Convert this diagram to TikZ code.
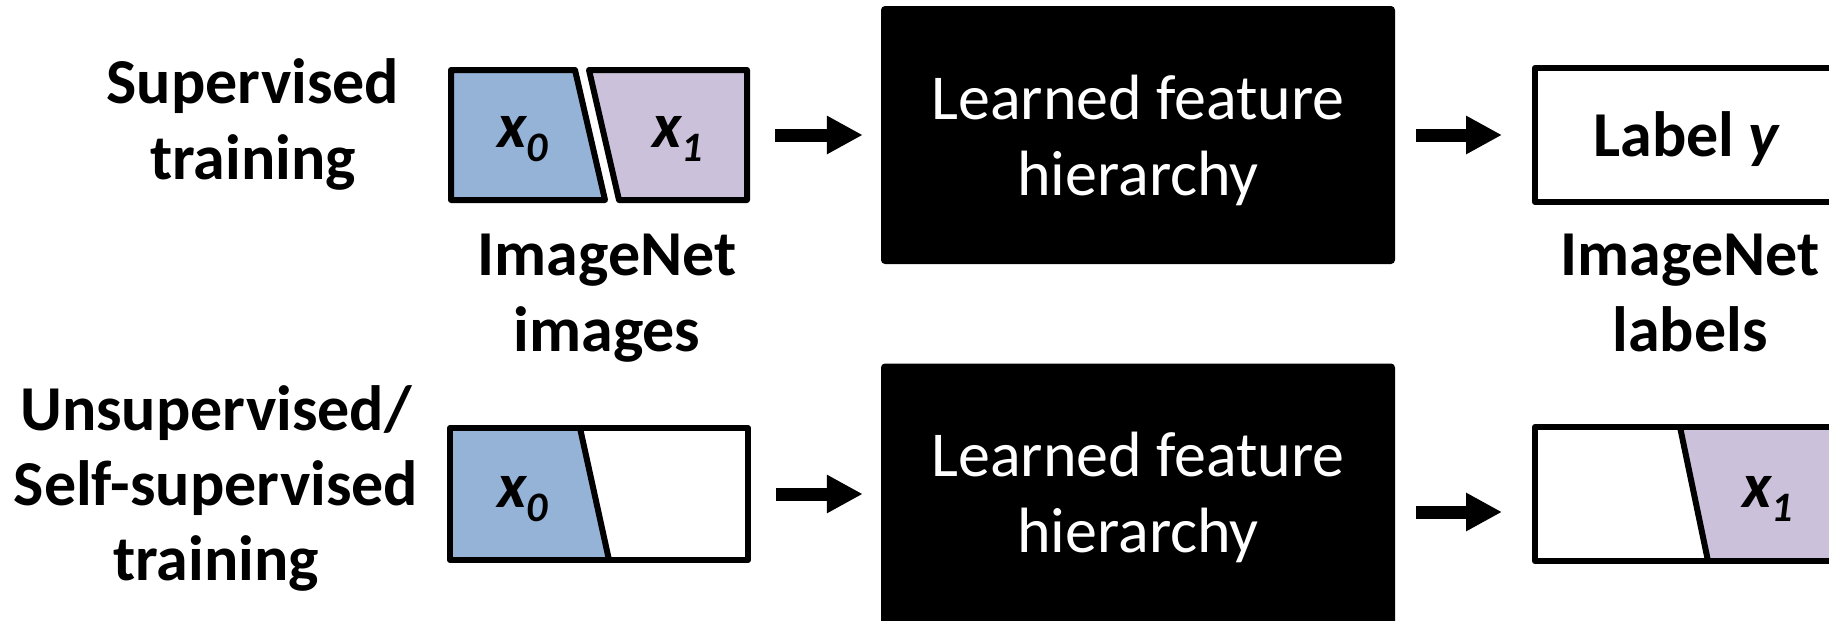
\documentclass[tikz,border=0pt]{standalone}
\usepackage{fontspec}
\setmainfont{Carlito}
\usetikzlibrary{arrows.meta}
\definecolor{imgblue}{HTML}{95B3D7}
\definecolor{imgpurple}{HTML}{CCC1DA}
\begin{document}
\begin{tikzpicture}[x=1pt,y=-1pt,
  lbl/.style={font=\fontsize{64}{76}\selectfont\bfseries, align=center, inner sep=0pt},
  lbltri/.style={font=\fontsize{64}{75}\selectfont\bfseries, align=center, inner sep=0pt},
  encbox/.style={fill=black, rounded corners=4pt, inner sep=0pt},
  enctext/.style={text=white, font=\fontsize{64}{76}\selectfont, align=center, inner sep=0pt},
  frame/.style={draw=black, line width=6pt, line join=round, inner sep=0pt},
  piece/.style={draw=black, line width=6pt, line join=round},
  flow/.style={line width=13pt, -{Triangle[length=36pt,width=36pt]}},
  var/.style={font=\fontsize{64}{64}\selectfont\bfseries\itshape, inner sep=0pt},
  ghost/.style={inner sep=0pt, outer sep=0pt},
]
\clip (0,0) rectangle (1829,621);
\fill[white] (0,0) rectangle (1829,621);

% ---- row labels
\node[lbl] (sup) at (253,126) {\strut Supervised\\\strut training};
\node[lbltri] (unsup) at (216,490) {\strut Unsupervised/\\Self-supervised\\\strut training};

% ---- top-left images (two pieces)
\path[piece, fill=imgblue] (451,70) -- (575,70) -- (605,200) -- (451,200) -- cycle;
\path[piece, fill=imgpurple] (589,70) -- (747,70) -- (747,200) -- (619,200) -- cycle;
\node[ghost, minimum width=302pt, minimum height=136pt] (img1) at (599,135) {};
\node[var, anchor=base west] (x0a) at (497,147) {x\raisebox{-14pt}{\fontsize{42}{42}\selectfont 0}};
\node[var, anchor=base west] (x1a) at (652,147) {x\raisebox{-14pt}{\fontsize{42}{42}\selectfont 1}};
\node[lbl] (imgl) at (607,298) {\strut ImageNet\\\strut images};

% ---- bottom-left image
\fill[imgblue] (450,428) -- (580,428) -- (609,560) -- (450,560) -- cycle;
\node[frame, minimum width=298pt, minimum height=132pt] (img2) at (599,494) {};
\draw[line width=6pt] (580,428) -- (609,560);
\node[var, anchor=base west] (x0b) at (497,507) {x\raisebox{-14pt}{\fontsize{42}{42}\selectfont 0}};

% ---- encoders
\node[encbox, minimum width=514pt, minimum height=258pt] (enc1) at (1138,135) {};
\node[enctext] (enc1t) at (1138,142) {\strut Learned feature\\\strut hierarchy};
\node[encbox, minimum width=514pt, minimum height=297pt] (enc2) at (1138,512) {};
\node[enctext] (enc2t) at (1138,499) {\strut Learned feature\\\strut hierarchy};

% ---- top-right label box
\node[frame, minimum width=400pt, minimum height=134pt, anchor=west] (lab1) at (1532,135) {};
\node[font=\fontsize{64}{64}\selectfont\bfseries, inner sep=0pt, anchor=base] (laby) at (1687,156) {Label \textit{y}};
\node[lbl] (labl) at (1690,298) {\strut ImageNet\\\strut labels};

% ---- bottom-right target box
\fill[imgpurple] (1680,427) -- (1900,427) -- (1900,561) -- (1708,561) -- cycle;
\node[frame, minimum width=400pt, minimum height=134pt, anchor=west] (lab2) at (1532,494) {};
\draw[line width=6pt] (1680,427) -- (1708,561);
\node[var, anchor=base west] (x1b) at (1742,507) {x\raisebox{-14pt}{\fontsize{42}{42}\selectfont 1}};

% ---- arrows
\draw[flow, shorten <=25pt, shorten >=18pt] (img1.east) -- (img1.east -| enc1.west);
\draw[flow, shorten <=21pt, shorten >=30pt] (enc1.east) -- (enc1.east -| lab1.west);
\draw[flow, shorten <=25pt, shorten >=18pt] (img2.east) -- (img2.east -| enc2.west);
\draw[flow, shorten <=21pt, shorten >=30pt] (enc2.east) -- (enc2.east -| lab2.west);
\end{tikzpicture}
\end{document}
